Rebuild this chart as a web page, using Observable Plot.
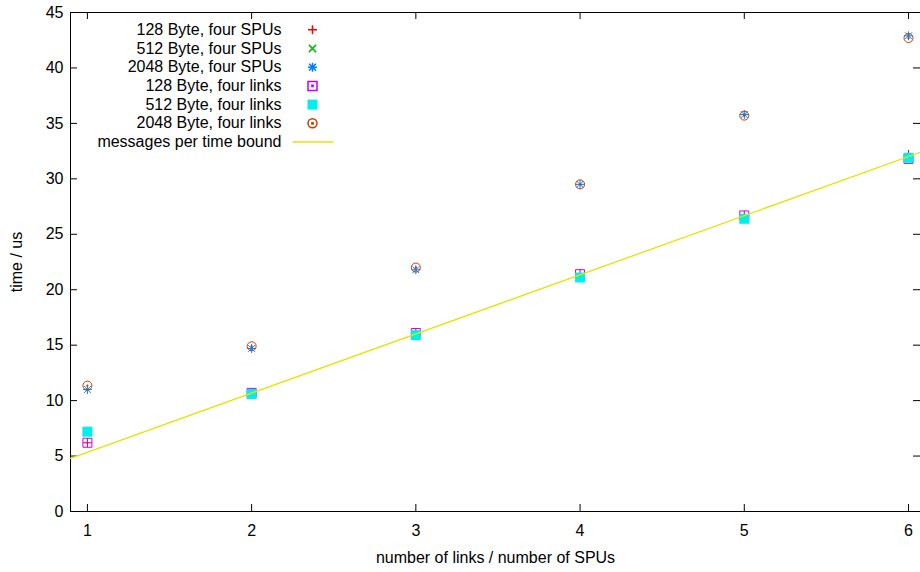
<!DOCTYPE html>
<html><head><meta charset="utf-8">
<script src="https://cdn.jsdelivr.net/npm/d3@7"></script>
<script src="https://cdn.jsdelivr.net/npm/@observablehq/plot@0.6"></script>
<style>html,body{margin:0;padding:0;background:#fff;overflow:hidden}#chart svg{display:block}</style>
</head><body><div id="chart"></div>
<script>
// ---- data ----
const links = [1, 2, 3, 4, 5, 6];
const spu128  = [6.2, 10.7, 16.1, 21.4, 26.7, 32.2];
const spu512  = [7.1, 10.6, 15.9, 21.1, 26.4, 31.9];
const spu2048 = [11.0, 14.7, 21.8, 29.5, 35.8, 42.9];
const link128  = [6.2, 10.7, 16.1, 21.4, 26.7, 31.8];
const link512  = [7.2, 10.6, 15.9, 21.1, 26.4, 31.9];
const link2048 = [11.35, 14.9, 22.0, 29.5, 35.7, 42.7];
const boundX = [0.897, 6.073];
const boundY = [4.8, 32.4];
const xTicks = [1, 2, 3, 4, 5, 6];
const yTicks = [0, 5, 10, 15, 20, 25, 30, 35, 40, 45];
const xDomain = [0.897, 6.073];
const yDomain = [0, 45];
const seriesNames = ["128 Byte, four SPUs", "512 Byte, four SPUs", "2048 Byte, four SPUs",
  "128 Byte, four links", "512 Byte, four links", "2048 Byte, four links"];
const boundName = "messages per time bound";
const xLabel = "number of links / number of SPUs";
const yLabel = "time / us";

// ---- styling ----
const W = 920, H = 572, mL = 70, mR = 0, mT = 12, mB = 61;
const plotW = W - mL - mR, plotH = H - mT - mB;
const font = "'Liberation Sans', Arial, Helvetica, sans-serif";
const dotC = (c) => { c.moveTo(-0.6, -0.6); c.lineTo(0.6, -0.6); c.lineTo(0.6, 0.6); c.lineTo(-0.6, 0.6); c.closePath(); };
const symPlus = {draw(c){ c.moveTo(-4.5,0); c.lineTo(4.5,0); c.moveTo(0,-4.5); c.lineTo(0,4.5); }};
const symTimes = {draw(c){ c.moveTo(-3.6,-3.6); c.lineTo(3.6,3.6); c.moveTo(-3.6,3.6); c.lineTo(3.6,-3.6); }};
const symStar = {draw(c){ c.moveTo(-4.5,0); c.lineTo(4.5,0); c.moveTo(0,-4.5); c.lineTo(0,4.5);
  c.moveTo(-3.4,-3.4); c.lineTo(3.4,3.4); c.moveTo(-3.4,3.4); c.lineTo(3.4,-3.4); }};
const symBoxDot = {draw(c){ c.moveTo(-4.5,-4.5); c.lineTo(4.5,-4.5); c.lineTo(4.5,4.5); c.lineTo(-4.5,4.5); c.closePath(); dotC(c); }};
const symBox = {draw(c){ c.moveTo(-5,-5); c.lineTo(5,-5); c.lineTo(5,5); c.lineTo(-5,5); c.closePath(); }};
const symCircDot = {draw(c){ c.moveTo(4.5,0); c.arc(0,0,4.5,0,2*Math.PI); dotC(c); }};
const symLine = {draw(c){ c.moveTo(-20.5,0); c.lineTo(20.5,0); }};

const series = [
  {vals: spu128,  sym: symPlus,    stroke: "#ff0000", fill: "none"},
  {vals: spu512,  sym: symTimes,   stroke: "#00c000", fill: "none"},
  {vals: spu2048, sym: symStar,    stroke: "#0080ff", fill: "none"},
  {vals: link128, sym: symBoxDot,  stroke: "#c000ff", fill: "none"},
  {vals: link512, sym: symBox,     stroke: "none",    fill: "#00eeee"},
  {vals: link2048, sym: symCircDot, stroke: "#c04000", fill: "none"}
];
const lineColor = "#e4e400";

const marks = [];
// border
marks.push(Plot.ruleX([xDomain[0]], {stroke: "#000"}));
marks.push(Plot.ruleY(yDomain, {stroke: "#000"}));
// inward ticks
marks.push(Plot.tickX(xTicks, {x: d => d, insetTop: plotH - 7, stroke: "#000"}));
marks.push(Plot.tickX(xTicks, {x: d => d, insetBottom: plotH - 7, stroke: "#000"}));
marks.push(Plot.tickY(yTicks, {y: d => d, insetRight: plotW - 7, stroke: "#000"}));
marks.push(Plot.tickY(yTicks, {y: d => d, insetLeft: plotW - 7, stroke: "#000"}));
// tick labels
marks.push(Plot.axisX({ticks: xTicks, tickSize: 0, tickPadding: 13, label: null, tickFormat: d => String(d), fill: "#000"}));
marks.push(Plot.axisY({ticks: yTicks, tickSize: 0, tickPadding: 7, label: null, tickFormat: d => String(d), fill: "#000"}));
// axis labels
marks.push(Plot.text([xLabel], {frameAnchor: "bottom", dy: 46, lineAnchor: "middle", textAnchor: "middle", text: d => d, fill: "#000"}));
marks.push(Plot.text([yLabel], {frameAnchor: "left", dx: -54, rotate: -90, lineAnchor: "middle", textAnchor: "middle", text: d => d, fill: "#000"}));
// data
series.forEach(s => {
  marks.push(Plot.dot(links.map((x, i) => ({x, y: s.vals[i]})), {x: "x", y: "y", symbol: s.sym, r: 4.5, stroke: s.stroke, fill: s.fill, strokeWidth: 1}));
});
marks.push(Plot.line(boundX.map((x, i) => ({x, y: boundY[i]})), {x: "x", y: "y", stroke: lineColor, strokeWidth: 1.3}));
// legend
const legTextDx = 211, legSymDx = 242, legDy0 = 17.3, legStep = 18.7;
seriesNames.forEach((name, i) => {
  marks.push(Plot.text([name], {frameAnchor: "top-left", dx: legTextDx, dy: legDy0 + i * legStep, textAnchor: "end", lineAnchor: "middle", text: d => d, fill: "#000"}));
  const s = series[i];
  marks.push(Plot.dot([name], {frameAnchor: "top-left", dx: legSymDx, dy: legDy0 + i * legStep, symbol: s.sym, r: 4.5, stroke: s.stroke, fill: s.fill}));
});
marks.push(Plot.text([boundName], {frameAnchor: "top-left", dx: legTextDx, dy: legDy0 + 6 * legStep, textAnchor: "end", lineAnchor: "middle", text: d => d, fill: "#000"}));
marks.push(Plot.dot([boundName], {frameAnchor: "top-left", dx: legSymDx + 0.5, dy: legDy0 + 6 * legStep, symbol: symLine, r: 4.5, stroke: lineColor, fill: "none", strokeWidth: 1.3}));

const chart = Plot.plot({
  width: W, height: H,
  marginLeft: mL, marginRight: mR, marginTop: mT, marginBottom: mB,
  style: {fontFamily: font, fontSize: "16px", background: "#fff", color: "#000"},
  x: {domain: xDomain, axis: null},
  y: {domain: yDomain, axis: null},
  marks
});
document.getElementById("chart").appendChild(chart);
</script>
</body></html>
